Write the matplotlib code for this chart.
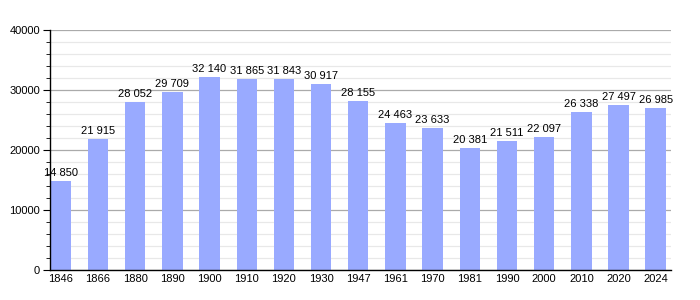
import matplotlib.pyplot as plt
import numpy as np

years = ["1846", "1866", "1880", "1890", "1900", "1910", "1920", "1930", "1947",
         "1961", "1970", "1981", "1990", "2000", "2010", "2020", "2024"]
population = [14850, 21915, 28052, 29709, 32140, 31865, 31843, 30917, 28155,
              24463, 23633, 20381, 21511, 22097, 26338, 27497, 26985]

plt.rcParams["font.family"] = ["Liberation Sans", "DejaVu Sans"]


def fmt(v):
    # thousands separated by a space
    return f"{v:,}".replace(",", " ")


fig = plt.figure(figsize=(7, 3), dpi=100)
ax = fig.add_axes([0.071, 0.1, 0.888, 0.8])

x = np.arange(len(years))
ax.bar(x, population, width=0.55, color="#99aaff", zorder=2)
for xi, v in zip(x, population):
    ax.text(xi, v + 500, fmt(v), ha="center", va="bottom", fontsize=8, zorder=3)

ax.set_xlim(-0.3, 16.42)
ax.set_ylim(0, 40000)
ax.set_yticks(np.arange(0, 40001, 10000))
ax.set_yticks(np.arange(0, 40001, 2000), minor=True)
ax.grid(axis="y", which="major", color="#aaaaaa", linewidth=0.9, zorder=0)
ax.grid(axis="y", which="minor", color="#e8e8e8", linewidth=0.9, zorder=0)
ax.set_xticks(x)
ax.set_xticklabels(years)
ax.tick_params(axis="x", length=0, labelsize=8, pad=3)
ax.tick_params(axis="y", which="major", length=5, labelsize=8, pad=2)
ax.tick_params(axis="y", which="minor", length=3)

for s in ["top", "right"]:
    ax.spines[s].set_visible(False)
ax.spines["left"].set_linewidth(1.0)
ax.spines["bottom"].set_linewidth(1.0)

fig.savefig("out.png", dpi=100)
